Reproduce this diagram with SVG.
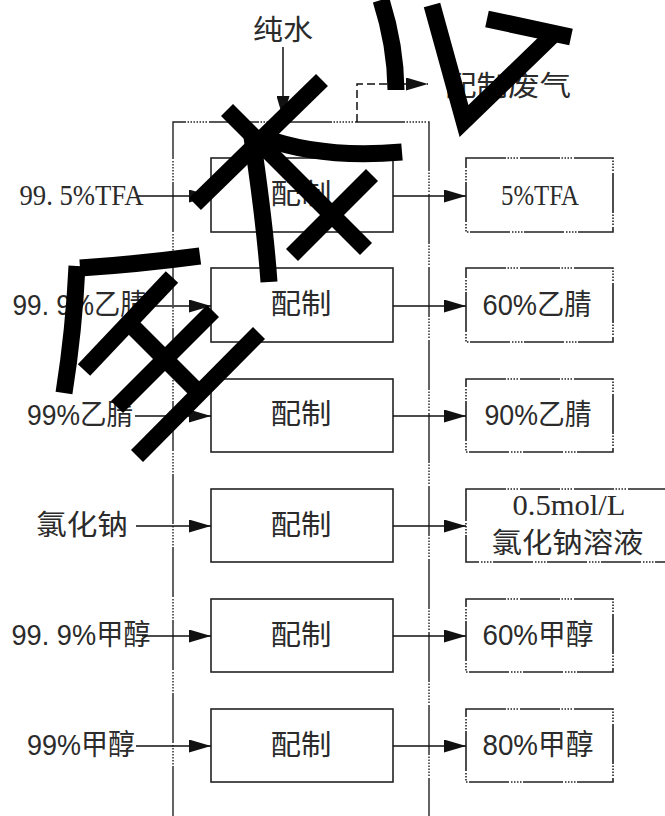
<svg xmlns="http://www.w3.org/2000/svg" width="665" height="816" viewBox="0 0 665 816">
<defs>
<marker id="ah" markerUnits="userSpaceOnUse" markerWidth="22" markerHeight="13" viewBox="0 0 22 13" refX="22" refY="6.5" orient="auto"><path d="M0,0 L22,6.5 L0,13 Z" fill="#111"/></marker>
</defs>
<style>
.frame{fill:none;stroke:#222;stroke-width:1.4;stroke-dasharray:50 1.5 1.5 1.5 1.5 1.5 1.5 1.5 1.5 1.5 1.5 1.5 1.5 1.5 1.5 2}
.box{fill:#fff;stroke:#222;stroke-width:1.6}
.obox{fill:#fff;stroke:#222;stroke-width:1.6;stroke-dasharray:40 1.5 1.5 1.5 1.5 1.5 1.5 1.5 1.5 2}
.ln{fill:none;stroke:#111;stroke-width:1.5}
.dash{fill:none;stroke:#111;stroke-width:1.5;stroke-dasharray:8 4}
.cn{font-family:"Noto Sans CJK SC",sans-serif;font-size:28px;fill:#2b2b2b;text-anchor:middle}
.mx{font-family:"Liberation Sans","Noto Sans CJK SC",sans-serif;font-size:29px;fill:#2b2b2b;text-anchor:middle}
.sf{font-family:"Liberation Serif","Noto Sans CJK SC",serif;font-size:29px;fill:#2b2b2b;text-anchor:middle}
.brush{fill:none;stroke:#000;stroke-width:17;stroke-linecap:butt;stroke-linejoin:miter}
</style>

<g id="frame"><path class="frame" d="M173 816 V122 H429 V816"/></g>

<g id="water"><text class="cn" x="283" y="40" textLength="60" lengthAdjust="spacingAndGlyphs">纯水</text></g>
<g id="exhaust"><text class="cn" x="508" y="96" textLength="126" lengthAdjust="spacingAndGlyphs">配制废气</text></g>

<g id="in1"><text class="sf" x="81.5" y="205" textLength="124" lengthAdjust="spacingAndGlyphs">99. 5%TFA</text></g>
<g id="in2"><text class="mx" x="79.5" y="315" textLength="134" lengthAdjust="spacingAndGlyphs">99. 9%乙腈</text></g>
<g id="in3"><text class="mx" x="80" y="425" textLength="106" lengthAdjust="spacingAndGlyphs">99%乙腈</text></g>
<g id="in4"><text class="cn" x="82" y="535" textLength="92" lengthAdjust="spacingAndGlyphs">氯化钠</text></g>
<g id="in5"><text class="mx" x="81" y="645" textLength="139" lengthAdjust="spacingAndGlyphs">99. 9%甲醇</text></g>
<g id="in6"><text class="mx" x="81" y="755" textLength="108" lengthAdjust="spacingAndGlyphs">99%甲醇</text></g>

<g id="mix1"><rect class="box" x="211" y="158" width="182" height="74"/><text class="cn" x="301" y="204" textLength="61" lengthAdjust="spacingAndGlyphs">配制</text></g>
<g id="mix2"><rect class="box" x="211" y="268" width="182" height="74"/><text class="cn" x="301" y="314" textLength="61" lengthAdjust="spacingAndGlyphs">配制</text></g>
<g id="mix3"><rect class="box" x="211" y="379" width="182" height="73"/><text class="cn" x="301" y="424" textLength="61" lengthAdjust="spacingAndGlyphs">配制</text></g>
<g id="mix4"><rect class="box" x="211" y="489" width="182" height="73"/><text class="cn" x="301" y="535" textLength="61" lengthAdjust="spacingAndGlyphs">配制</text></g>
<g id="mix5"><rect class="box" x="211" y="599" width="182" height="73"/><text class="cn" x="301" y="645" textLength="61" lengthAdjust="spacingAndGlyphs">配制</text></g>
<g id="mix6"><rect class="box" x="211" y="709" width="182" height="73"/><text class="cn" x="301" y="755" textLength="61" lengthAdjust="spacingAndGlyphs">配制</text></g>

<g id="out1"><rect class="obox" x="466" y="158" width="147" height="74"/><text class="sf" x="540" y="205" textLength="78" lengthAdjust="spacingAndGlyphs">5%TFA</text></g>
<g id="out2"><rect class="obox" x="466" y="268" width="147" height="74"/><text class="mx" x="537" y="315" textLength="109" lengthAdjust="spacingAndGlyphs">60%乙腈</text></g>
<g id="out3"><rect class="obox" x="466" y="379" width="147" height="73"/><text class="mx" x="538" y="425" textLength="107" lengthAdjust="spacingAndGlyphs">90%乙腈</text></g>
<g id="out4"><rect class="obox" x="466" y="489" width="240" height="73"/><text class="sf" x="569" y="515" font-size="28" textLength="113" lengthAdjust="spacingAndGlyphs">0.5mol/L</text><text class="cn" x="567.5" y="553" textLength="152" lengthAdjust="spacingAndGlyphs">氯化钠溶液</text></g>
<g id="out5"><rect class="obox" x="466" y="599" width="147" height="73"/><text class="mx" x="538" y="645" textLength="111" lengthAdjust="spacingAndGlyphs">60%甲醇</text></g>
<g id="out6"><rect class="obox" x="466" y="709" width="147" height="73"/><text class="mx" x="538" y="755" textLength="111" lengthAdjust="spacingAndGlyphs">80%甲醇</text></g>

<g id="connectors">
<path class="ln" d="M283 47 V118" marker-end="url(#ah)"/>
<path class="dash" d="M357 122 V84 H428" marker-end="url(#ah)"/>
<path class="ln" d="M138 196 H211" marker-end="url(#ah)"/>
<path class="ln" d="M146 306 H211" marker-end="url(#ah)"/>
<path class="ln" d="M135 416 H211" marker-end="url(#ah)"/>
<path class="ln" d="M136 526 H211" marker-end="url(#ah)"/>
<path class="ln" d="M142 636 H211" marker-end="url(#ah)"/>
<path class="ln" d="M136 746 H211" marker-end="url(#ah)"/>
<path class="ln" d="M393 196 H466" marker-end="url(#ah)"/>
<path class="ln" d="M393 306 H466" marker-end="url(#ah)"/>
<path class="ln" d="M393 416 H466" marker-end="url(#ah)"/>
<path class="ln" d="M393 526 H466" marker-end="url(#ah)"/>
<path class="ln" d="M393 636 H466" marker-end="url(#ah)"/>
<path class="ln" d="M393 746 H466" marker-end="url(#ah)"/>
</g>

<g id="overlay-strokes">
<path class="brush" d="M381 0 Q395.5 45 396 90"/>
<path class="brush" d="M432 5 L464 121 L555 33"/>
<path class="brush" d="M487 19 L571 37"/>
<path class="brush" d="M322 80 L195 204"/>
<path class="brush" d="M227 110 L366 249"/>
<path class="brush" d="M372 175 L292 255"/>
<path class="brush" d="M262 137 Q320 159 402 152"/>
<path class="brush" d="M252 137 Q265 225 269 282"/>
<path class="brush" d="M80 268 Q140 264 200 256"/>
<path class="brush" d="M77 266 Q74 330 64 393"/>
<path class="brush" d="M172 277 L84 370"/>
<path class="brush" d="M213 311 L117 407"/>
<path class="brush" d="M259 333 L137 456"/>
<path class="brush" d="M131 325 L196 390"/>
</g>
</svg>
